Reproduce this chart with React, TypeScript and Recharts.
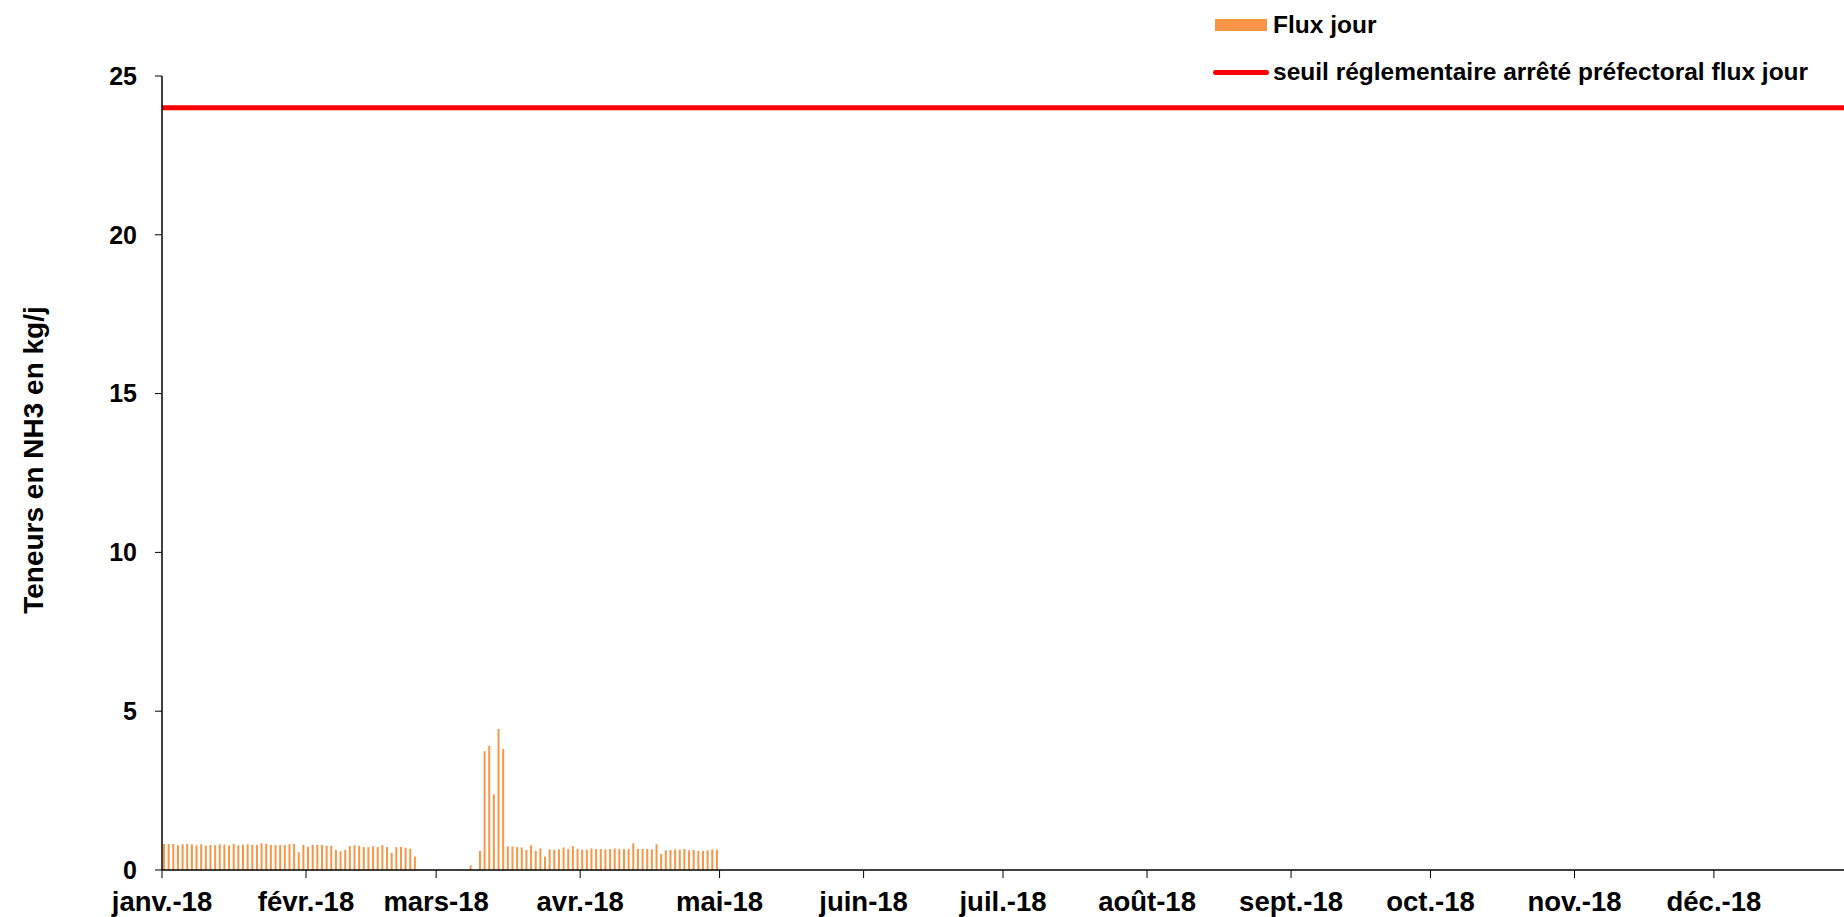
import { ComposedChart, Bar, XAxis, YAxis, ReferenceLine } from 'recharts'

// flux journalier NH3 (kg/j), un chiffre par jour, null = pas de mesure
const fluxJanvier = [
  0.82, 0.82, 0.82, 0.78, 0.81, 0.82, 0.81, 0.78, 0.81, 0.76, 0.79, 0.78, 0.81, 0.8, 0.77, 0.82,
  0.78, 0.8, 0.81, 0.79, 0.79, 0.84, 0.82, 0.79, 0.79, 0.79, 0.78, 0.81, 0.82, 0.56, 0.79,
]
const fluxFevrier = [
  0.73, 0.79, 0.79, 0.79, 0.76, 0.76, 0.63, 0.59, 0.63, 0.75, 0.78, 0.76, 0.72, 0.72, 0.75, 0.72,
  0.78, 0.72, 0.54, 0.72, 0.73, 0.7, 0.67, 0.42, null, null, null, null,
]
const fluxMars = [
  null, null, null, null, null, null, null, 0.15, null, 0.6, 3.74, 3.91, 2.38, 4.44, 3.81, 0.74,
  0.74, 0.72, 0.71, 0.63, 0.78, 0.6, 0.68, 0.42, 0.65, 0.64, 0.65, 0.71, 0.66, 0.75, 0.67,
]
const fluxAvril = [
  0.64, 0.64, 0.68, 0.66, 0.66, 0.65, 0.66, 0.68, 0.66, 0.66, 0.66, 0.84, 0.66, 0.66, 0.66, 0.65,
  0.81, 0.51, 0.62, 0.63, 0.65, 0.64, 0.66, 0.62, 0.63, 0.6, 0.6, 0.62, 0.65, 0.64,
]

const seuilFluxJour = 24

const debutsMois = [0, 31, 59, 90, 120, 151, 181, 212, 243, 273, 304, 334]
const moisLabels = [
  'janv.-18', 'févr.-18', 'mars-18', 'avr.-18', 'mai-18', 'juin-18',
  'juil.-18', 'août-18', 'sept.-18', 'oct.-18', 'nov.-18', 'déc.-18',
]
const yTicks = [0, 5, 10, 15, 20, 25]

const FONT = '"Liberation Sans", Arial, sans-serif'
const ORANGE = '#F79646'
const ROUGE = '#FF0000'

// barres centrées au milieu de chaque jour (axe de dates Excel)
const data = [...fluxJanvier, ...fluxFevrier, ...fluxMars, ...fluxAvril].map((v, i) => ({
  jour: i + 0.5,
  flux: v,
}))

function LegendBox() {
  return (
    <div style={{ position: 'absolute', left: 1210, top: 0, width: 630, height: 90, fontFamily: FONT, fontWeight: 'bold', fontSize: 24.5, color: '#000' }}>
      <div style={{ position: 'absolute', left: 5, top: 19, width: 52, height: 12, background: ORANGE }} />
      <div style={{ position: 'absolute', left: 63, top: 10, lineHeight: '30px', whiteSpace: 'nowrap' }}>Flux jour</div>
      <div style={{ position: 'absolute', left: 3, top: 70, width: 56, height: 5, borderRadius: 3, background: ROUGE }} />
      <div style={{ position: 'absolute', left: 63, top: 57, lineHeight: '30px', whiteSpace: 'nowrap' }}>
        seuil réglementaire arrêté préfectoral flux jour
      </div>
    </div>
  )
}

export default function App() {
  return (
    <div style={{ position: 'fixed', left: 0, top: 0, width: 1844, height: 917, background: '#fff' }}>
      <ComposedChart
        width={1844}
        height={917}
        data={data}
        margin={{ top: 76, right: 0, bottom: 0, left: 0 }}
      >
        <XAxis
          dataKey="jour"
          type="number"
          domain={[0, 362]}
          allowDataOverflow
          ticks={debutsMois}
          interval={0}
          tickFormatter={(v) => moisLabels[debutsMois.indexOf(v)]}
          height={47}
          tickSize={8}
          tickMargin={13}
          axisLine={{ stroke: '#000', strokeWidth: 1.5 }}
          tickLine={{ stroke: '#000' }}
          tick={{ fill: '#000', fontSize: 27.5, fontWeight: 'bold', fontFamily: FONT }}
        />
        <YAxis
          type="number"
          domain={[0, 25]}
          ticks={yTicks}
          interval={0}
          width={162}
          tickSize={7}
          tickMargin={18}
          axisLine={{ stroke: '#000', strokeWidth: 1.5 }}
          tickLine={{ stroke: '#000' }}
          tick={{ fill: '#000', fontSize: 25, fontWeight: 'bold', fontFamily: FONT }}
          label={{
            content: () => (
              <text
                x={33}
                y={460}
                transform="rotate(-90, 33, 460)"
                textAnchor="middle"
                dominantBaseline="central"
                fill="#000"
                fontSize={28}
                fontWeight="bold"
                fontFamily={FONT}
              >
                Teneurs en NH3 en kg/j
              </text>
            ),
          }}
        />
        <Bar dataKey="flux" name="Flux jour" fill={ORANGE} barSize={2} isAnimationActive={false} />
        <ReferenceLine y={seuilFluxJour} stroke={ROUGE} strokeWidth={5} ifOverflow="extendDomain" />
      </ComposedChart>
      <LegendBox />
    </div>
  )
}
